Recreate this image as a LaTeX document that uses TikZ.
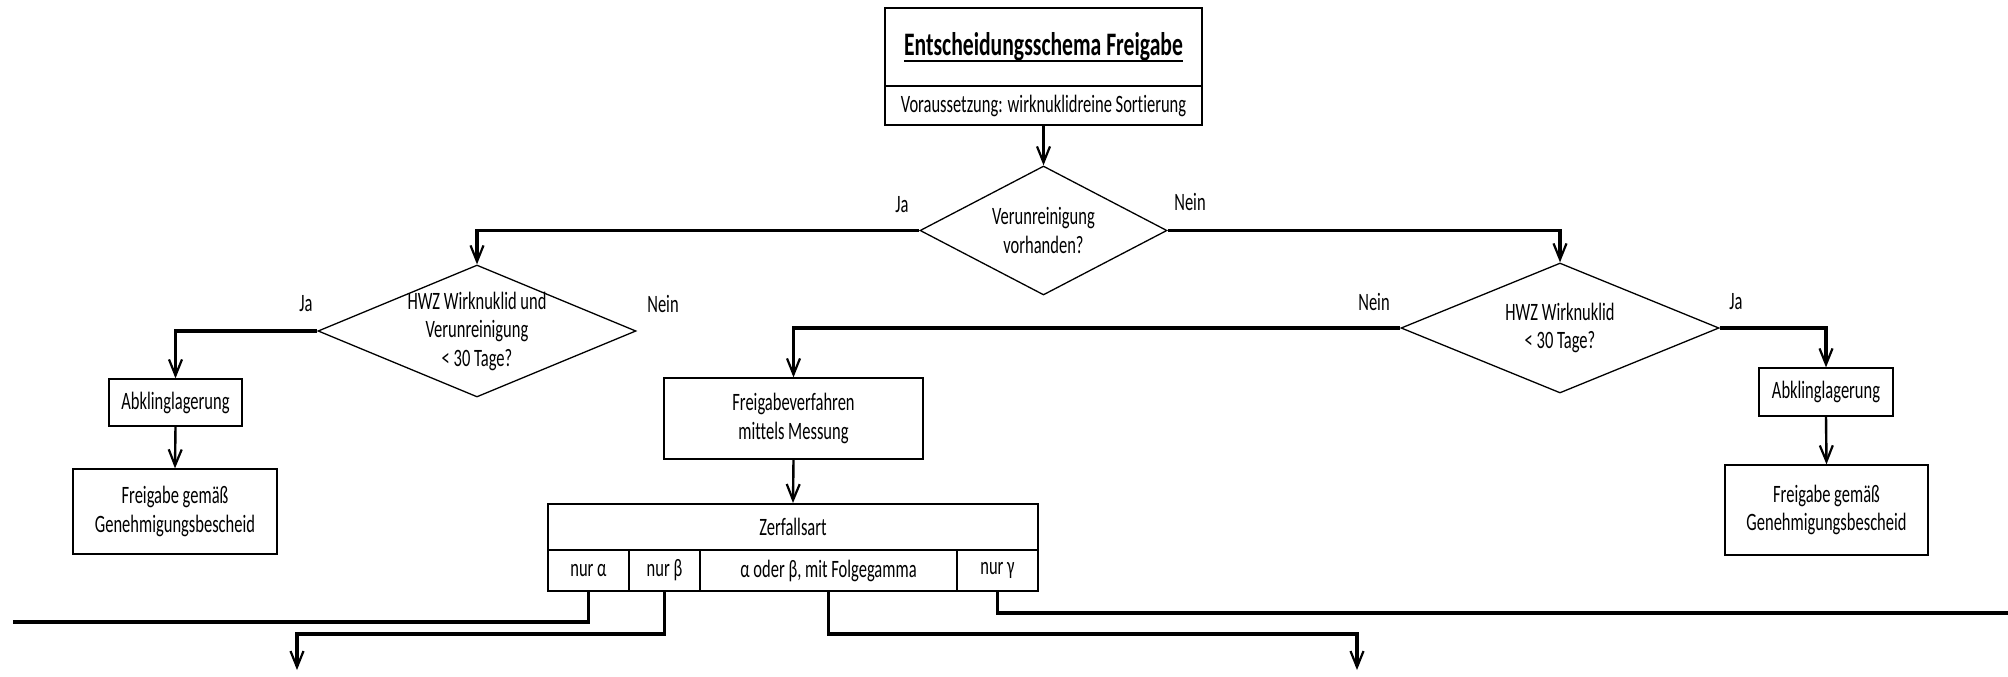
\documentclass[tikz,border=0pt]{standalone}
\usepackage{fontspec}
\setmainfont{Carlito}[FakeStretch=0.66, Ligatures=NoCommon]
\usetikzlibrary{shapes.geometric,arrows.meta}
% underlined text with a heavier rule
\newsavebox{\titlebox}
\newcommand{\titleline}[1]{\sbox{\titlebox}{#1}\rlap{\raisebox{-6pt}[0pt][0pt]{\rule{\wd\titlebox}{2pt}}}\usebox{\titlebox}}

\begin{document}
\begin{tikzpicture}[x=1pt,y=-1pt,
  every node/.style={font=\fontsize{25}{28.5}\selectfont, text=black},
  box/.style={draw=black, line width=1.3pt, inner sep=0pt, align=center},
  cell/.style={draw=black, line width=2pt, inner sep=0pt, align=center},
  dec/.style={diamond, draw=black, line width=1.3pt, inner sep=0pt},
  lbl/.style={inner sep=0pt},
  tip/.style={-{Straight Barb[length=16pt,width=13pt,line width=2.2pt]}},
  flow/.style={line width=3.2pt},
  link/.style={line width=2.4pt, tip}
]
\fill[white] (0,0) rectangle (2008,677);
\useasboundingbox (0,0) rectangle (2008,677);

% header
\node[box, minimum width=317pt, minimum height=78pt] (ttl) at (1043.5,47)
  {\fontsize{32.8}{36}\selectfont\bfseries\titleline{Entscheidungsschema Freigabe}};
\node[box, minimum width=317pt, minimum height=39pt] (sub) at (1043.5,105.5)
  {Voraussetzung: wirknuklidreine Sortierung};

% decisions
\node[dec, minimum width=247pt, minimum height=129pt,
  label={[align=center]center:Verunreinigung\\vorhanden?}] (d1) at (1043.5,230.5) {};
\node[dec, minimum width=318pt, minimum height=132pt,
  label={[align=center]center:HWZ Wirknuklid und\\Verunreinigung\\< 30 Tage?}] (d2) at (477,331) {};
\node[dec, minimum width=318pt, minimum height=130pt,
  label={[align=center]center:HWZ Wirknuklid\\< 30 Tage?}] (d3) at (1560,328) {};

\node[lbl] (ja1) at (902,205) {Ja};
\node[lbl] (nein1) at (1190,202) {Nein};
\node[lbl] (ja2) at (306,304) {Ja};
\node[lbl] (nein2) at (663,304) {Nein};
\node[lbl] (nein3) at (1374,302) {Nein};
\node[lbl] (ja3) at (1736,302) {Ja};

% left branch
\node[box, minimum width=133pt, minimum height=47pt] (abkL) at (175.5,402.5) {Abklinglagerung};
\node[box, minimum width=204pt, minimum height=85pt] (freiL) at (175,511.5)
  {Freigabe gemäß\\Genehmigungsbescheid};

% right branch
\node[box, minimum width=134pt, minimum height=48pt] (abkR) at (1826,392) {Abklinglagerung};
\node[box, minimum width=203pt, minimum height=90pt] (freiR) at (1826.5,510)
  {Freigabe gemäß\\Genehmigungsbescheid};

% measurement
\node[box, minimum width=259pt, minimum height=81pt] (fv) at (793.5,418.5)
  {Freigabeverfahren\\mittels Messung};

% decay table
\node[cell, minimum width=490pt, minimum height=46pt] (zf) at (793,527) {Zerfallsart};
\node[cell, minimum width=81pt, minimum height=41pt] (cA) at (588.5,570.5) {nur α};
\node[cell, minimum width=71pt, minimum height=41pt] (cB) at (664.5,570.5) {nur β};
\node[cell, minimum width=257pt, minimum height=41pt] (cAB) at (828.5,570.5) {α oder β, mit Folgegamma};
\node[cell, minimum width=81pt, minimum height=41pt] (cG) at (997.5,570.5) {nur γ};

% connectors
\draw[link] (sub.south) -- (d1.north);
\draw[flow, tip] (d1.west) -| (d2.north);
\draw[flow, tip] (d1.east) -| (d3.north);
\draw[flow, tip] (d2.west) -| (abkL.north);
\draw[link] (abkL.south) -- (freiL.north);
\draw[flow, tip] (d3.west) -| (fv.north);
\draw[flow, tip] (d3.east) -| (abkR.north);
\draw[link] (abkR.south) -- (freiR.north);
\draw[link] (fv.south) -- (zf.north);

\coordinate (endA) at (13,622);
\coordinate (bendB) at (297,634);
\coordinate (outB) at (297,670);
\coordinate (bendAB) at (1357,634);
\coordinate (outAB) at (1357,670);
\coordinate (endG) at (2008,613);
\draw[flow] (cA.south) |- (endA);
\draw[flow, tip] (cB.south) |- (bendB) -- (outB);
\draw[flow, tip] (cAB.south) |- (bendAB) -- (outAB);
\draw[flow] (cG.south) |- (endG);
\end{tikzpicture}
\end{document}
